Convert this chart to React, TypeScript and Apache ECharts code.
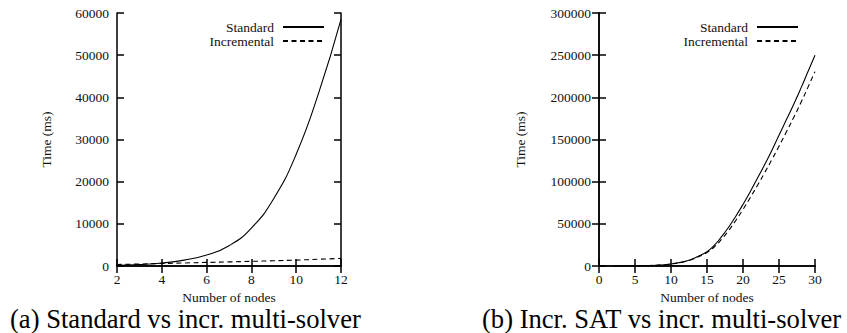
import React, { useEffect, useRef } from "react";
import * as echarts from "echarts";

// (a) Standard vs incremental multi-solver
const nodesA = [2, 3, 4, 5, 6, 7, 8, 9, 10, 11, 12];
const standardA = [150, 350, 700, 1400, 2600, 4800, 9000, 16000, 26500, 41000, 58500];
const incrementalA = [350, 470, 600, 720, 850, 970, 1100, 1250, 1400, 1600, 1800];

// (b) Incremental SAT vs incremental multi-solver
const nodesB = [2, 3, 4, 5, 6, 7, 8, 9, 10, 11, 12, 13, 14, 15, 16, 17, 18, 19, 20, 21, 22, 23, 24, 25, 26, 27, 28, 29, 30];
const standardB = [50, 100, 150, 250, 400, 600, 900, 1400, 2400, 3800, 5600, 8500, 12500, 17000, 24500, 34500, 46000, 59000, 73000, 88000, 104000, 120000, 137000, 155000, 173000, 191000, 210000, 230000, 250000];
const incrementalB = [50, 100, 150, 250, 400, 600, 900, 1350, 2300, 3600, 5300, 8000, 11700, 16000, 22500, 31500, 42000, 54000, 67000, 81000, 95500, 110500, 126000, 142000, 158500, 175500, 193000, 211500, 230500];

const ticksA = { xMin: 2, xMax: 12, xStep: 2, yMin: 0, yMax: 60000, yStep: 10000 };
const ticksB = { xMin: 0, xMax: 30, xStep: 5, yMin: 0, yMax: 300000, yStep: 50000 };

const captionA = "(a) Standard vs incr. multi-solver";
const captionB = "(b) Incr. SAT vs incr. multi-solver";

const FONT = "Liberation Serif";
const TXT = "#111";

function axisPair(gridIndex: number, t: typeof ticksA, yGap: number) {
  const lineStyle = { color: "#000", width: 1.5 };
  const label = { color: TXT, fontFamily: FONT, fontSize: 13.5, formatter: (v: number) => String(v) };
  const x = [
    {
      type: "value", gridIndex, min: t.xMin, max: t.xMax, interval: t.xStep,
      position: "bottom",
      axisLine: { show: true, lineStyle }, splitLine: { show: false },
      axisTick: { show: true, inside: true, length: 7, lineStyle },
      axisLabel: { ...label, margin: 6 },
      name: "Number of nodes", nameLocation: "middle", nameGap: 22,
      nameTextStyle: { color: TXT, fontFamily: FONT, fontSize: 13.5, lineHeight: 13 },
    },
    {
      type: "value", gridIndex, min: t.xMin, max: t.xMax, interval: t.xStep,
      position: "top",
      axisLine: { show: true, lineStyle }, splitLine: { show: false },
      axisTick: { show: true, inside: true, length: 7, lineStyle },
      axisLabel: { show: false },
    },
  ];
  const y = [
    {
      type: "value", gridIndex, min: t.yMin, max: t.yMax, interval: t.yStep,
      position: "left",
      axisLine: { show: true, lineStyle }, splitLine: { show: false },
      axisTick: { show: true, inside: true, length: 7, lineStyle },
      axisLabel: { ...label, margin: 8 },
      name: "Time (ms)", nameLocation: "middle", nameGap: yGap, nameRotate: 90,
      nameTextStyle: { color: TXT, fontFamily: FONT, fontSize: 13.5 },
    },
    {
      type: "value", gridIndex, min: t.yMin, max: t.yMax, interval: t.yStep,
      position: "right",
      axisLine: { show: true, lineStyle }, splitLine: { show: false },
      axisTick: { show: true, inside: true, length: 7, lineStyle },
      axisLabel: { show: false },
    },
  ];
  return { x, y };
}

export default function App() {
  const ref = useRef<HTMLDivElement>(null);
  useEffect(() => {
    if (!ref.current) return;
    const chart = echarts.init(ref.current, null, { renderer: "svg" });
    const a = axisPair(0, ticksA, 64);
    const b = axisPair(1, ticksB, 72);
    const solid = { color: "#000", width: 1.1, type: "solid" };
    const dashed = { color: "#000", width: 1.1, type: [5, 3.5] };
    const mk = (name: string, xs: number[], ys: number[], xi: number, yi: number, ls: any) => ({
      name, type: "line", xAxisIndex: xi, yAxisIndex: yi,
      data: xs.map((v, i) => [v, ys[i]]),
      smooth: 0.5, symbol: "none", showSymbol: false,
      lineStyle: ls, itemStyle: { color: "#000" },
    });
    const legendBase = {
      data: ["Standard", "Incremental"], orient: "vertical", align: "right",
      top: 20, itemWidth: 41, itemHeight: 10, itemGap: 0, padding: 0,
      itemStyle: { opacity: 0 },
      textStyle: { color: TXT, fontFamily: FONT, fontSize: 13.5, lineHeight: 11.7, padding: [0, 4, 0, 0] },
    };
    chart.setOption({
      animation: false,
      backgroundColor: "#fff",
      grid: [
        { left: 117, top: 13, width: 224, height: 253, containLabel: false },
        { left: 599, top: 13, width: 216, height: 253, containLabel: false },
      ],
      xAxis: [...a.x, ...b.x],
      yAxis: [...a.y, ...b.y],
      legend: [
        { ...legendBase, right: 522 },
        { ...legendBase, right: 48 },
      ],
      series: [
        mk("Standard", nodesA, standardA, 0, 0, solid),
        mk("Incremental", nodesA, incrementalA, 0, 0, dashed),
        mk("Standard", nodesB, standardB, 2, 2, solid),
        mk("Incremental", nodesB, incrementalB, 2, 2, dashed),
      ],
      graphic: [
        { type: "text", x: 10, y: 319, style: { text: captionA, fontFamily: FONT, fontSize: 26.6, lineHeight: 26, fill: "#000", verticalAlign: "middle", align: "left" } },
        { type: "text", x: 482, y: 319, style: { text: captionB, fontFamily: FONT, fontSize: 26.6, lineHeight: 26, fill: "#000", verticalAlign: "middle", align: "left" } },
      ],
    });
    return () => chart.dispose();
  }, []);
  return <div ref={ref} style={{ position: "absolute", left: 0, top: 0, width: 847, height: 333 }} />;
}
